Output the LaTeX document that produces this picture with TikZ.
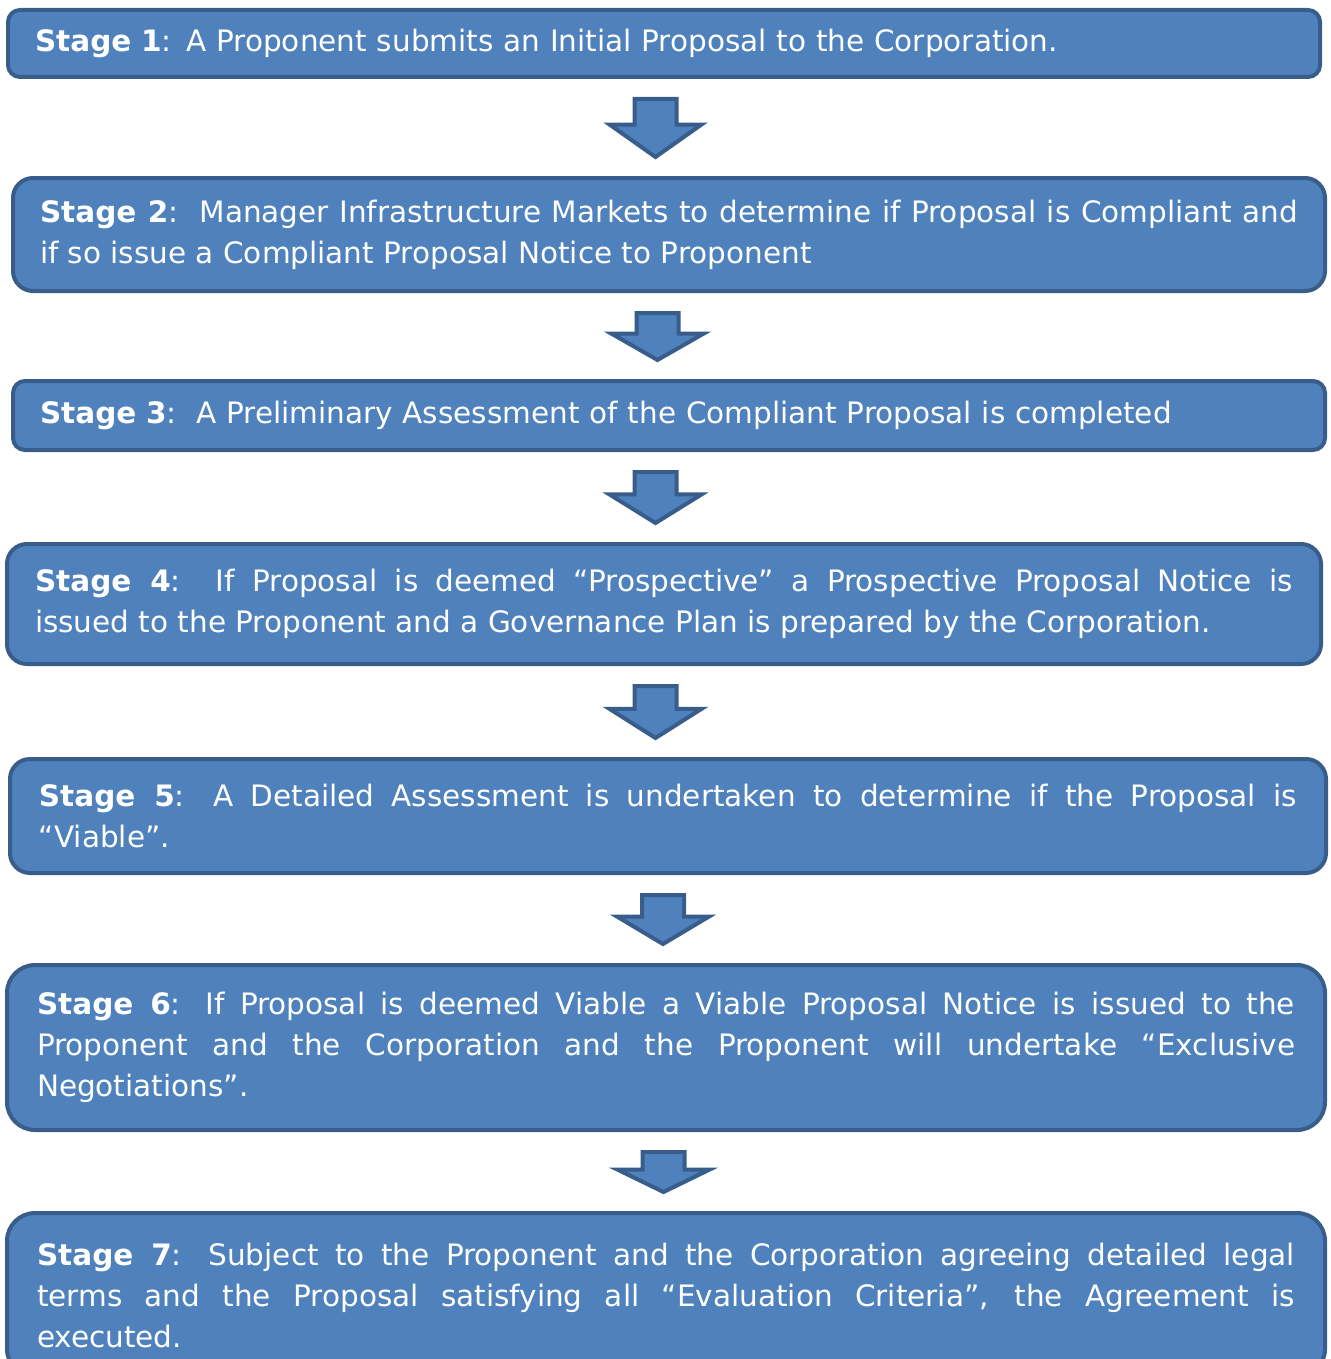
\documentclass[tikz,border=0pt]{standalone}
\usepackage{fontspec}
\usepackage{tikz}
\usetikzlibrary{calc,positioning}
\newfontfamily\stagefont{DejaVu Sans}
\definecolor{stagefill}{HTML}{4F81BD}
\definecolor{stageline}{HTML}{385D8A}
\tikzset{every picture/.style={line width=0.75pt}}
\tikzset{
  stagebox/.style={draw=stageline, fill=stagefill, line width=2pt, text=white,
    font=\stagefont\fontsize{14.75pt}{20.5pt}\selectfont, text width=629pt, inner sep=0pt},
  downarrow/.style={draw=stageline, fill=stagefill, line width=2pt}
}
% block arrow from box #1 down to box #2, shifted by #3 (px)
\newcommand{\stagearrow}[3]{%
  \draw[downarrow] let \p1=(#1.south), \p2=(#2.north),
    \p3=({(\x1+\x2)/2+#3*0.5pt},\y1-10pt), \p4=(\x3,\y2+9.5pt),
    \n1={\y4+0.56*(\y3-\y4)} in
    (\x3-10.5pt,\y3) -- (\x3+10.5pt,\y3) -- (\x3+10.5pt,\n1*1pt) -- (\x3+23pt,\n1*1pt)
    -- (\x4,\y4) -- (\x3-23pt,\n1*1pt) -- (\x3-10.5pt,\n1*1pt) -- cycle;
}
\hyphenpenalty=10000
\exhyphenpenalty=10000
\tolerance=10000

\begin{document}
\begin{tikzpicture}[x=0.5pt, y=-0.5pt]
    \clip (0,0) rectangle (1330,1359);

    % Stage 1
    \node[stagebox, align=left, minimum width=656pt, minimum height=33.5pt, rounded corners=6pt]
      (stage1) at (664,43.5) {\textbf{Stage 1}: A Proponent submits an Initial Proposal to the Corporation.};

    % Stage 2
    \node[stagebox, align=justify, minimum width=656pt, minimum height=56.5pt, rounded corners=10pt]
      (stage2) at (669,234.5) {\textbf{Stage 2}:\ \ Manager Infrastructure Markets to determine if Proposal is Compliant and\linebreak
      if so issue a Compliant Proposal Notice to Proponent};

    % Stage 3
    \node[stagebox, align=left, minimum width=656pt, minimum height=34.5pt, rounded corners=6pt]
      (stage3) at (669,415.5) {\textbf{Stage 3}:\ \ A Preliminary Assessment of the Compliant Proposal is completed};

    % Stage 4
    \node[stagebox, align=justify, minimum width=657pt, minimum height=60pt, rounded corners=10pt]
      (stage4) at (664,604) {\textbf{Stage 4}:\ \ If Proposal is deemed “Prospective” a Prospective Proposal Notice is\linebreak
      issued to the Proponent and a Governance Plan is prepared by the Corporation.};

    % Stage 5
    \node[stagebox, align=justify, minimum width=658pt, minimum height=57pt, rounded corners=10pt]
      (stage5) at (668,816) {\textbf{Stage 5}: A Detailed Assessment is undertaken to determine if the Proposal is\linebreak
      “Viable”.};

    % Stage 6
    \node[stagebox, align=justify, minimum width=659pt, minimum height=82.5pt, rounded corners=14pt]
      (stage6) at (666,1047.5) {\textbf{Stage 6}: If Proposal is deemed Viable a Viable Proposal Notice is issued to the\linebreak
      Proponent and the Corporation and the Proponent will undertake “Exclusive\linebreak
      Negotiations”.};

    % Stage 7
    \node[stagebox, align=justify, minimum width=659pt, minimum height=82pt, rounded corners=14pt]
      (stage7) at (666,1295) {\textbf{Stage 7}: Subject to the Proponent and the Corporation agreeing detailed legal\linebreak
      terms and the Proposal satisfying all “Evaluation Criteria”, the Agreement is\linebreak
      executed.};

    % arrows between the stages
    \stagearrow{stage1}{stage2}{-11}
    \stagearrow{stage2}{stage3}{-11.5}
    \stagearrow{stage3}{stage4}{-11}
    \stagearrow{stage4}{stage5}{-10.5}
    \stagearrow{stage5}{stage6}{-4}
    \stagearrow{stage6}{stage7}{-2.5}
\end{tikzpicture}
\end{document}
